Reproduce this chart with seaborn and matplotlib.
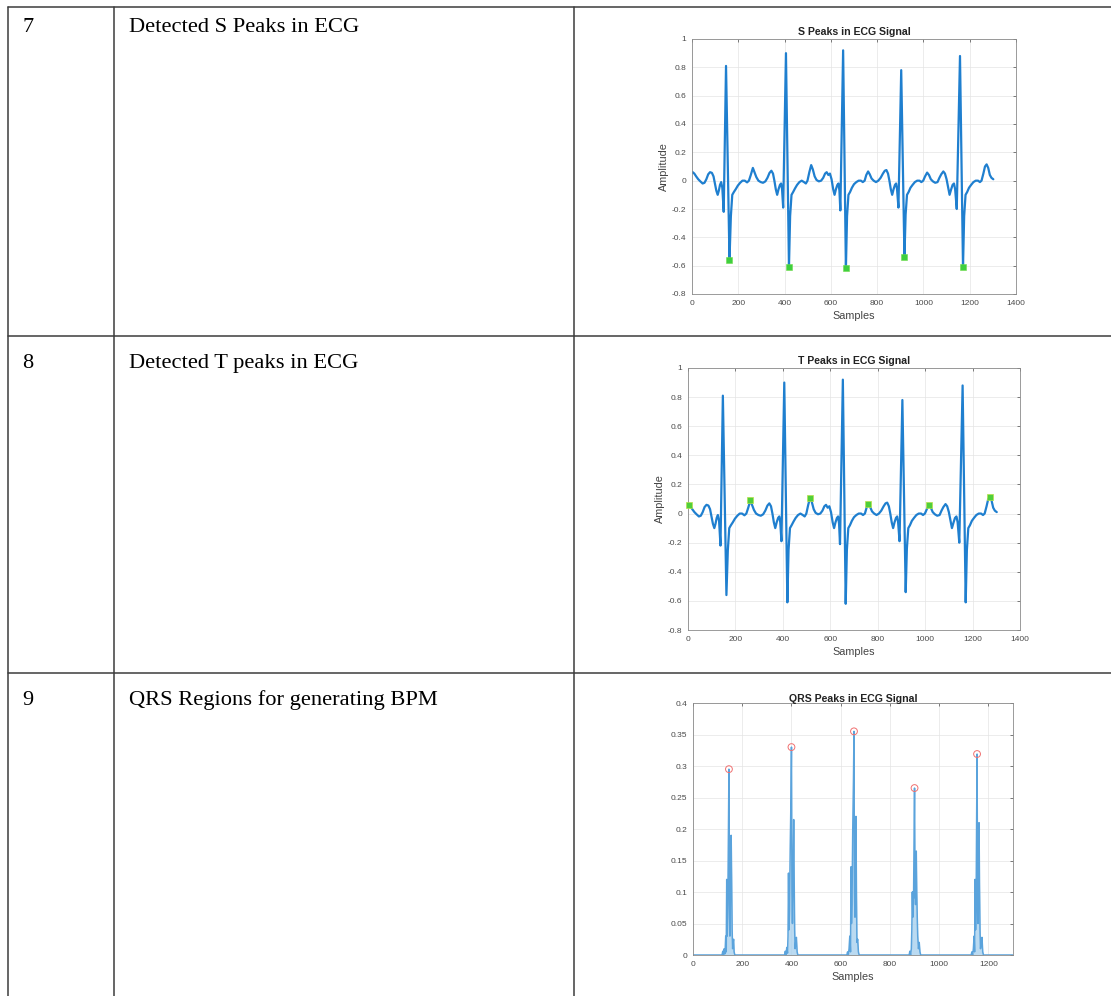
import matplotlib
matplotlib.use("Agg")
import matplotlib.pyplot as plt
from matplotlib.lines import Line2D
from matplotlib.ticker import FuncFormatter
import seaborn as sns

W, H = 1111, 996

row_numbers = ["7", "8", "9"]
row_captions = ["Detected S Peaks in ECG", "Detected T peaks in ECG", "QRS Regions for generating BPM"]
chart_titles = ["S Peaks in ECG Signal", "T Peaks in ECG Signal", "QRS Peaks in ECG Signal"]

# ECG trace, vertices (one line per beat)
ecg_x = [0, 3, 10, 18, 27, 36, 46, 54, 62, 70, 78, 86, 93, 99, 105, 111, 116, 121, 126, 131, 137, 147, 162,
         168, 174, 181, 189, 198, 208, 218, 228, 238, 246, 254, 263, 270, 278, 287, 297, 307, 317, 326, 335,
         343, 350, 356, 362, 368, 374, 380, 385, 389, 394, 406, 419,
         424, 430, 437, 445, 454, 464, 474, 484, 492, 499, 507, 515, 522, 530, 538, 548, 558, 567, 575, 582,
         589, 596, 603, 610, 616, 622, 628, 633, 637, 641, 653, 665,
         670, 676, 683, 691, 700, 710, 720, 730, 738, 746, 753, 761, 768, 776, 785, 795, 805, 815, 825, 833,
         840, 847, 853, 859, 865, 871, 877, 882, 886, 892, 904, 918,
         923, 929, 936, 944, 953, 963, 973, 983, 991, 999, 1007, 1016, 1024, 1032, 1041, 1051, 1061, 1069,
         1077, 1086, 1093, 1100, 1106, 1113, 1120, 1126, 1132, 1137, 1144, 1158, 1171,
         1176, 1182, 1189, 1197, 1206, 1216, 1226, 1236, 1244, 1251, 1259, 1266, 1273, 1280, 1287, 1294, 1302]
ecg_y = [0.058, 0.06, 0.05, 0.03, 0.01, -0.005, -0.02, -0.015, 0.01, 0.045, 0.06, 0.055, 0.03, -0.02, -0.07,
         -0.10, -0.07, -0.03, -0.01, -0.05, -0.22, 0.81, -0.56,
         -0.25, -0.10, -0.08, -0.06, -0.035, -0.015, 0.0, 0.0, -0.012, 0.0, 0.04, 0.09, 0.06, 0.025, 0.0,
         -0.01, -0.015, -0.005, 0.02, 0.055, 0.07, 0.05, 0.0, -0.06, -0.10, -0.06, -0.03, -0.02, -0.06,
         -0.19, 0.90, -0.61,
         -0.25, -0.10, -0.08, -0.055, -0.03, -0.01, 0.0, -0.01, -0.02, 0.0, 0.06, 0.11, 0.08, 0.03, 0.005,
         -0.005, 0.0, 0.02, 0.05, 0.06, 0.04, 0.05, 0.01, -0.06, -0.10, -0.06, -0.03, -0.02, -0.07, -0.21,
         0.92, -0.62,
         -0.25, -0.10, -0.08, -0.05, -0.025, -0.01, 0.0, 0.0, -0.01, 0.0, 0.04, 0.065, 0.045, 0.015, 0.0,
         -0.01, 0.0, 0.02, 0.05, 0.07, 0.075, 0.05, 0.0, -0.06, -0.10, -0.06, -0.03, -0.02, -0.06, -0.19,
         0.78, -0.54,
         -0.24, -0.10, -0.08, -0.05, -0.03, -0.01, 0.0, 0.0, -0.01, 0.0, 0.03, 0.057, 0.04, 0.01, -0.005,
         -0.015, -0.01, 0.02, 0.045, 0.065, 0.05, 0.01, -0.04, -0.10, -0.06, -0.03, -0.02, -0.06, -0.20,
         0.88, -0.61,
         -0.25, -0.10, -0.08, -0.05, -0.03, -0.01, 0.0, 0.0, -0.01, 0.0, 0.05, 0.10, 0.115, 0.09, 0.04,
         0.02, 0.01]
s_samples = [162, 419, 665, 918, 1171]
t_samples = [3, 263, 515, 761, 1016, 1273]

# QRS energy trace
qrs_x = [0, 118, 121, 124, 127, 130, 133, 135, 137, 139, 141, 143, 146, 148, 150, 152, 155, 157, 159, 161,
         163, 165, 167, 170,
         372, 375, 378, 381, 384, 386, 388, 390, 392, 395, 398, 400, 402, 404, 407, 409, 411, 413, 415, 417,
         420, 423, 426,
         625, 628, 631, 634, 637, 640, 642, 644, 646, 649, 652, 654, 656, 658, 660, 662, 664, 666, 669, 672, 675,
         878, 881, 884, 887, 889, 891, 893, 894, 896, 898, 900, 902, 904, 906, 907, 909, 911, 913, 916, 919,
         922, 925,
         1130, 1133, 1136, 1139, 1142, 1144, 1146, 1148, 1150, 1152, 1154, 1156, 1158, 1160, 1162, 1164, 1166,
         1168, 1171, 1174, 1177, 1180, 1300]
qrs_y = [0, 0, 0.006, 0.0, 0.01, 0.002, 0.03, 0.005, 0.12, 0.03, 0.06, 0.15, 0.295, 0.08, 0.03, 0.10, 0.19,
         0.12, 0.04, 0.01, 0.02, 0.025, 0.005, 0,
         0, 0.006, 0.0, 0.012, 0.003, 0.03, 0.13, 0.04, 0.07, 0.17, 0.25, 0.33, 0.10, 0.05, 0.14, 0.215, 0.12,
         0.04, 0.01, 0.02, 0.028, 0.005, 0,
         0, 0.005, 0.0, 0.01, 0.03, 0.005, 0.14, 0.05, 0.08, 0.2, 0.28, 0.355, 0.1, 0.06, 0.15, 0.22, 0.1,
         0.02, 0.025, 0.005, 0,
         0, 0.006, 0.0, 0.01, 0.04, 0.1, 0.06, 0.1, 0.09, 0.18, 0.265, 0.1, 0.08, 0.12, 0.165, 0.1, 0.06,
         0.03, 0.01, 0.02, 0.005, 0,
         0, 0.005, 0.0, 0.01, 0.03, 0.005, 0.12, 0.04, 0.07, 0.2, 0.319, 0.1, 0.05, 0.13, 0.21, 0.11, 0.04,
         0.01, 0.02, 0.028, 0.005, 0, 0]
qrs_peak_samples = [146, 400, 654, 900, 1154]

ecg_ticks_x = [0, 200, 400, 600, 800, 1000, 1200, 1400]
ecg_ticks_y = [-0.8, -0.6, -0.4, -0.2, 0, 0.2, 0.4, 0.6, 0.8, 1]
qrs_ticks_x = [0, 200, 400, 600, 800, 1000, 1200]
qrs_ticks_y = [0, 0.05, 0.1, 0.15, 0.2, 0.25, 0.3, 0.35, 0.4]

sns.set_theme(style="white")
plt.rcParams['font.family'] = ['Liberation Sans', 'DejaVu Sans']

fig = plt.figure(figsize=(W / 100, H / 100), dpi=100, facecolor='white')


def fx(px):
    return px / W


def fy(py):
    return 1 - py / H


# table grid
line_kw = dict(color='#3c3c3c', lw=1.1, transform=fig.transFigure)
for yy in [7.5, 336, 673]:
    fig.add_artist(Line2D([fx(8), 1.0], [fy(yy), fy(yy)], **line_kw))
for xx in [8, 114, 574]:
    fig.add_artist(Line2D([fx(xx), fx(xx)], [fy(7.5), 0.0], **line_kw))

baselines = [32, 368, 705]
for num, cap, by in zip(row_numbers, row_captions, baselines):
    fig.text(fx(22), fy(by), num, fontsize=16, family='Liberation Serif', va='baseline', color='black')
    fig.text(fx(129), fy(by), cap, fontsize=16.2, family='Liberation Serif', va='baseline', color='black')

fmt = FuncFormatter(lambda v, p: f"{v:g}")


def style_axes(ax, xlim, xticks, ylim, yticks, title, ylabel, pad):
    ax.set_xlim(xlim)
    ax.set_ylim(ylim)
    ax.set_xticks(xticks)
    ax.set_yticks(yticks)
    ax.xaxis.set_major_formatter(fmt)
    ax.yaxis.set_major_formatter(fmt)
    ax.grid(True, color='#e4e4e4', lw=0.5)
    ax.set_axisbelow(True)
    ax.tick_params(direction='in', length=2.5, width=0.5, labelsize=6, colors='#4a4a4a',
                   top=True, right=True, pad=4)
    for sp in ax.spines.values():
        sp.set_color('#8a8a8a')
        sp.set_linewidth(0.6)
    ax.set_title(title, fontsize=7.6, fontweight='bold', color='#222222', pad=pad)
    ax.set_xlabel("Samples", fontsize=7.8, color='#444444', labelpad=3)
    ax.set_ylabel(ylabel, fontsize=7.8, color='#444444', labelpad=2)


line_color = '#1f7fcf'

# chart 1: S peaks
ax1 = fig.add_axes([fx(692), fy(294), fx(1016) - fx(692), fy(39) - fy(294)])
sns.lineplot(x=ecg_x, y=ecg_y, ax=ax1, color=line_color, lw=1.6, estimator=None, sort=False)
s_y = [ecg_y[ecg_x.index(s)] for s in s_samples]
sns.scatterplot(x=s_samples, y=s_y, ax=ax1, marker='s', s=16, color='#3fcf3f',
                edgecolor='#6fdc4a', linewidth=0.4, zorder=3)
style_axes(ax1, (0, 1400), ecg_ticks_x, (-0.8, 1), ecg_ticks_y, chart_titles[0], "Amplitude", 3)

# chart 2: T peaks
ax2 = fig.add_axes([fx(688), fy(630), fx(1020) - fx(688), fy(368) - fy(630)])
sns.lineplot(x=ecg_x, y=ecg_y, ax=ax2, color=line_color, lw=1.6, estimator=None, sort=False)
t_y = [ecg_y[ecg_x.index(t)] for t in t_samples]
sns.scatterplot(x=t_samples, y=t_y, ax=ax2, marker='s', s=16, color='#4fcf3a',
                edgecolor='#b8e04a', linewidth=0.5, zorder=3, clip_on=False)
style_axes(ax2, (0, 1400), ecg_ticks_x, (-0.8, 1), ecg_ticks_y, chart_titles[1], "Amplitude", 3)

# chart 3: QRS regions
ax3 = fig.add_axes([fx(693), fy(955), fx(1013) - fx(693), fy(703) - fy(955)])
ax3.fill_between(qrs_x, qrs_y, 0, color='#a9d1ee', alpha=0.8, lw=0)
sns.lineplot(x=qrs_x, y=qrs_y, ax=ax3, color='#5aa3dc', lw=1.1, estimator=None, sort=False)
p_y = [qrs_y[qrs_x.index(p)] for p in qrs_peak_samples]
sns.scatterplot(x=qrs_peak_samples, y=p_y, ax=ax3, marker='o', s=24, facecolor='none',
                edgecolor='#f07070', linewidth=0.7, zorder=3)
style_axes(ax3, (0, 1300), qrs_ticks_x, (0, 0.4), qrs_ticks_y, chart_titles[2], "", 1)

fig.savefig("out.png", dpi=100, facecolor='white')
